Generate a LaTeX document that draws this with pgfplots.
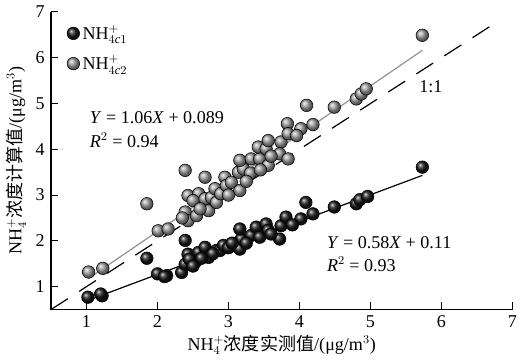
\documentclass[border=0pt]{standalone}
\usepackage{pgfplots}
\pgfplotsset{compat=1.18}
\usepackage{fontspec}
\setmainfont{Liberation Serif}
\newfontfamily\cjk{Noto Sans CJK SC}
\begin{document}
\fontsize{13.5}{15}\selectfont
\begin{tikzpicture}
\begin{axis}[
  scale only axis, width=345pt, height=222.5pt,
  xmin=0.5, xmax=7, ymin=0.5, ymax=7,
  axis lines=left, axis line style={-, line width=0.9pt},
  xtick={1,...,7}, ytick={1,...,7},
  tick align=inside, major tick length=5.5pt, tick style={line width=0.8pt, black},
  /pgf/number format/assume math mode=true,
  ticklabel style={font=\fontsize{13.5}{15}\selectfont},
  xlabel={NH$_4^+${\cjk 浓度实测值}/(μg/m$^3$)},
  ylabel={NH$_4^+${\cjk 浓度计算值}/(μg/m$^3$)},
  label style={font=\fontsize{13.5}{15}\selectfont},
  xlabel style={yshift=4pt},
  ylabel style={yshift=-2pt},
  legend style={draw=none, fill=none, at={(0.025,0.975)}, anchor=north west, row sep=6pt, font=\fontsize{13.5}{15}\selectfont},
  legend cell align=left,
  clip=false,
]
\addplot[black, dash pattern=on 15pt off 10pt, line width=0.9pt, forget plot] coordinates {(0.5,0.5) (6.8,6.8)};
\addplot[gray!85, line width=0.9pt, forget plot] coordinates {(1.03,1.18) (5.73,6.16)};
\addplot[black, line width=0.9pt, forget plot] coordinates {(1.02,0.70) (5.73,3.43)};
\addplot[only marks, mark=ball, mark size=4.7pt, mark options={ball color=black!90}] coordinates {
(1.02,0.77) (1.22,0.80) (1.20,0.84) (1.85,1.62) (2.00,1.28) (2.13,1.24) (2.10,1.22)
(2.34,1.31) (2.39,1.49) (2.39,2.01) (2.43,1.71) (2.53,1.53) (2.58,1.75) (2.67,1.86)
(2.72,1.64) (2.83,1.79) (2.88,1.79) (2.93,1.90) (3.00,1.85) (3.16,1.82) (3.18,2.04)
(3.16,2.26) (3.32,2.12) (3.39,2.30) (3.44,2.08) (3.53,2.37) (3.56,2.23) (3.72,2.04)
(3.74,2.33) (3.81,2.52) (4.02,2.48) (4.09,2.84) (4.19,2.59) (4.49,2.74) (4.80,2.81)
(4.85,2.90) (4.96,2.97) (5.73,3.61) (2.45,1.60) (2.62,1.62) (2.78,1.72) (3.05,1.95)
(3.25,1.95) (3.60,2.15) (3.90,2.35) (2.50,1.45)
};
\addlegendentry{NH$^+_{4\mathit{c}1}$}
\addplot[only marks, mark=ball, mark size=4.7pt, mark options={ball color=gray!75}] coordinates {
(1.03,1.32) (1.23,1.40) (1.85,2.81) (2.01,2.22) (2.15,2.26) (2.39,3.54) (2.39,2.63)
(2.43,2.44) (2.55,2.55) (2.43,2.99) (2.58,3.03) (2.50,2.88) (2.67,2.92) (2.67,3.39)
(2.72,2.66) (2.76,2.95) (2.83,2.84) (2.81,3.14) (2.89,3.03) (2.95,3.39) (2.97,3.21)
(3.04,3.28) (3.16,3.10) (3.14,3.50) (3.21,3.57) (3.31,3.48) (3.16,3.76) (3.32,3.79)
(3.44,3.79) (3.56,3.65) (3.42,4.05) (3.53,4.01) (3.56,4.19) (3.74,4.16) (3.72,3.90)
(3.84,3.79) (3.83,4.56) (3.84,4.34) (4.02,4.45) (3.96,4.30) (4.10,4.96) (4.19,4.54)
(4.49,4.92) (4.80,5.10) (4.87,5.21) (4.94,5.32) (5.73,6.49) (2.35,2.50) (2.60,2.70)
(3.00,3.00) (3.25,3.30) (3.60,3.85) (3.45,3.55)
};
\addlegendentry{NH$^+_{4\mathit{c}2}$}
\node[anchor=west] at (axis cs:0.96,4.70) {\textit{Y} = 1.06\textit{X} + 0.089};
\node[anchor=west] at (axis cs:0.96,4.20) {\textit{R}$^2$ = 0.94};
\node[anchor=west] at (axis cs:4.30,1.97) {\textit{Y} = 0.58\textit{X} + 0.11};
\node[anchor=west] at (axis cs:4.30,1.48) {\textit{R}$^2$ = 0.93};
\node at (axis cs:5.85,5.36) {1:1};
\end{axis}
\end{tikzpicture}
\end{document}
